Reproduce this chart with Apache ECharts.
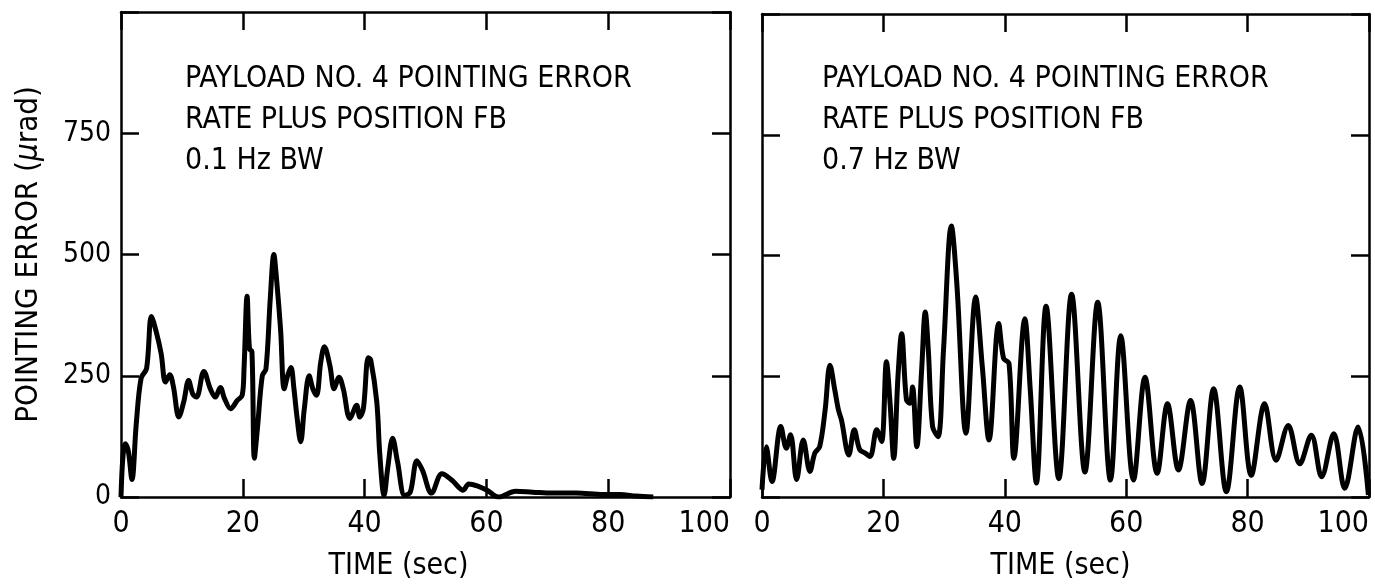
<!DOCTYPE html>
<html><head><meta charset="utf-8">
<script src="https://cdn.jsdelivr.net/npm/echarts@6/dist/echarts.min.js"></script>
<style>html,body{margin:0;padding:0;background:#fff}#c{width:1375px;height:586px}</style>
</head><body><div id="c"></div>
<script>
const FONT = '"Liberation Sans Narrow","DejaVu Sans Condensed","Roboto Condensed","Liberation Sans",sans-serif';
const xTicks = [0, 20, 40, 60, 80, 100];
const yTicks = [0, 250, 500, 750];
const leftTitle = ['PAYLOAD NO. 4 POINTING ERROR', 'RATE PLUS POSITION FB', '0.1 Hz BW'];
const rightTitle = ['PAYLOAD NO. 4 POINTING ERROR', 'RATE PLUS POSITION FB', '0.7 Hz BW'];
const xName = 'TIME (sec)';
const yNameParts = ['POINTING ERROR (', 'μ', 'rad)'];

const leftTime = [0,0.3,0.7,1.2,1.8,2.5,3.3,4.2,5.0,5.8,6.6,7.3,8.0,8.6,9.5,10.3,11.1,11.8,12.4,13.6,14.7,15.5,16.3,17.0,18.0,19.1,19.9,20.2,20.7,21.1,21.5,21.9,22.4,23.2,23.8,24.5,25.1,25.5,26.2,26.8,27.4,27.9,28.4,28.9,29.5,30.1,30.9,31.5,32.1,32.8,33.4,34.3,35.0,35.8,36.5,37.6,38.7,39.2,39.8,40.6,41.0,42.0,42.5,43.2,43.8,44.6,45.4,46.6,47.5,48.6,49.5,51.0,52.7,54.4,56.2,57.1,58.7,60.1,62.0,64.8,67.6,70.9,74.7,79.2,81.9,84.6,87.4];
const leftVal = [0,80,110,95,36,150,245,265,372,340,295,237,252,228,165,196,240,212,206,259,222,206,226,203,182,199,210,264,414,305,300,80,141,250,264,407,500,455,346,223,252,267,223,165,114,182,250,223,210,278,310,271,223,247,223,162,189,165,182,287,283,196,87,3,60,121,73,3,10,75,55,8,48,34,14,27,22,14,0,12,10,8,8,5,5,2,0];

const rightTime = [0,0.7,1.65,3.1,4.0,4.7,5.7,6.8,7.9,8.7,9.5,10.4,11.2,12.0,12.6,13.1,14.3,15.2,16.1,17.0,17.8,18.9,19.7,20.5,21.1,21.7,22.4,23.0,23.8,24.4,24.8,25.5,26.3,26.9,27.4,28.1,29.0,29.9,31.2,32.1,33.6,35.2,36.3,37.4,39.0,39.8,40.7,41.5,43.3,44.2,45.2,46.8,48.9,51.0,53.2,55.3,57.4,59.1,61.2,63.1,65.1,66.8,68.6,70.6,72.5,74.4,76.5,78.7,80.6,82.8,84.7,86.7,88.6,90.5,92.2,94.2,96.0,98.2,99.9];
const rightVal = [15,104,32,146,101,129,36,118,53,91,104,180,273,221,180,159,87,139,98,91,84,139,115,280,194,80,249,338,201,194,228,104,263,383,304,146,125,304,561,441,132,414,269,118,359,287,276,80,369,221,29,395,38,420,52,403,35,334,35,248,49,193,56,200,28,224,11,228,45,193,76,148,69,128,42,131,18,145,4];

const pairs = (t, v) => t.map((x, i) => [x, v[i]]);
const chart = echarts.init(document.getElementById('c'));

const grids = [
  {left: 121, top: 12, width: 609, height: 487},
  {left: 762, top: 14, width: 607, height: 490}
];
const mkLine = () => ({show: true, onZero: false, lineStyle: {color: '#000', width: 2.5}});
const mkTick = () => ({show: true, inside: true, length: 18, lineStyle: {color: '#000', width: 2.5}});

function xAx(gi, pos, showLabel, namePad) {
  return {
    type: 'value', gridIndex: gi, position: pos, min: xTicks[0], max: xTicks[xTicks.length-1], interval: 20,
    axisLine: mkLine(), axisTick: mkTick(), splitLine: {show: false},
    axisLabel: {show: showLabel, color: '#000', fontFamily: FONT, fontSize: 30, margin: 12, alignMaxLabel: 'right'},
    name: showLabel ? xName : '', nameLocation: 'middle', nameGap: 54,
    nameTextStyle: {color: '#000', fontFamily: FONT, fontSize: 30, padding: namePad}
  };
}
function yAx(gi, pos, showLabel, withName) {
  const st = {color: '#000', fontFamily: FONT, fontSize: 31};
  return {
    type: 'value', gridIndex: gi, position: pos, min: 0, max: 1000, interval: 250,
    axisLine: mkLine(), axisTick: mkTick(), splitLine: {show: false},
    axisLabel: {show: showLabel, color: '#000', fontFamily: FONT, fontSize: 28, margin: 10,
      formatter: v => yTicks.indexOf(v) >= 0 ? String(v) : ''},
    name: withName ? '{a|' + yNameParts[0] + '}{b|' + yNameParts[1] + '}{a|' + yNameParts[2] + '}' : '',
    nameLocation: 'middle', nameGap: 77, nameRotate: 90,
    nameTextStyle: Object.assign({}, st, {rich: {a: st, b: Object.assign({}, st, {fontStyle: 'italic'})}})
  };
}

function textBlock(lines, left) {
  return lines.map((s, i) => ({
    text: s, left: left, top: 64 + i * 41, padding: 0,
    textStyle: {color: '#000', fontFamily: FONT, fontSize: 30, fontWeight: 'normal'}
  }));
}

chart.setOption({
  animation: false,
  backgroundColor: '#fff',
  title: [...textBlock(leftTitle, 185), ...textBlock(rightTitle, 822)],
  grid: grids,
  xAxis: [xAx(0, 'bottom', true, [0, 54, 0, 0]), xAx(0, 'top', false, 0), xAx(1, 'bottom', true, [0, 10, 0, 0]), xAx(1, 'top', false, 0)],
  yAxis: [yAx(0, 'left', true, true), yAx(0, 'right', false, false), yAx(1, 'left', false, false), yAx(1, 'right', false, false)],
  series: [
    {type: 'line', xAxisIndex: 0, yAxisIndex: 0, data: pairs(leftTime, leftVal), showSymbol: false, smooth: 0.35,
     lineStyle: {color: '#000', width: 5}},
    {type: 'line', xAxisIndex: 2, yAxisIndex: 2, data: pairs(rightTime, rightVal), showSymbol: false, smooth: 0.35,
     lineStyle: {color: '#000', width: 5}}
  ]
});
</script></body></html>
